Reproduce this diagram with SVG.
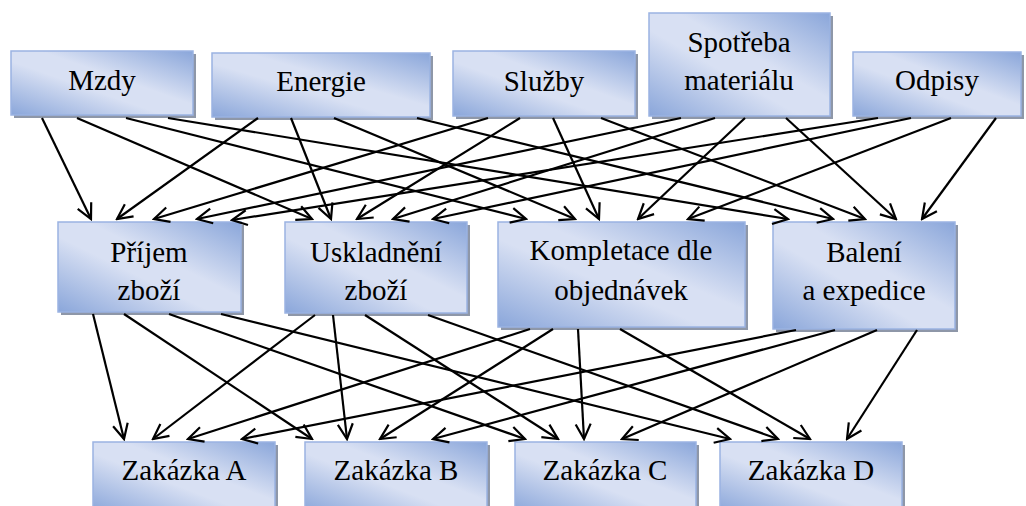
<svg xmlns="http://www.w3.org/2000/svg" width="1026" height="506" viewBox="0 0 1026 506">
<style>
.box{fill:url(#g);stroke:#9ab3e2;stroke-width:1.5}
.sh{fill:#8e97a8}
.t{font-family:"Liberation Serif","Times New Roman",serif;font-size:29px;fill:#000;text-anchor:middle}
.c line{stroke:#000;stroke-width:2.2;marker-end:url(#a)}
</style>
<defs>
<linearGradient id="g" x1="1" y1="0" x2="0" y2="1">
<stop offset="0" stop-color="#8aa6da"/>
<stop offset="0.42" stop-color="#d8e0f3"/>
<stop offset="0.58" stop-color="#d8e0f3"/>
<stop offset="1" stop-color="#8aa6da"/>
</linearGradient>
<marker id="a" viewBox="-16 -9 18 18" markerWidth="18" markerHeight="18" refX="0" refY="0" orient="auto" markerUnits="userSpaceOnUse">
<path d="M-15,-7.5 L0,0 L-15,7.5" fill="none" stroke="#000" stroke-width="2.2"/>
</marker>
</defs>
<rect width="1026" height="506" fill="#fff"/>

<g id="mzdy"><rect class="sh" x="14" y="54" width="182" height="64"/><rect class="box" x="11" y="51" width="182" height="64"/><text class="t" x="102" y="90">Mzdy</text></g>
<g id="energie"><rect class="sh" x="215" y="56" width="218" height="64"/><rect class="box" x="212" y="53" width="218" height="64"/><text class="t" x="321" y="91">Energie</text></g>
<g id="sluzby"><rect class="sh" x="456" y="54" width="182" height="65"/><rect class="box" x="453" y="51" width="182" height="65"/><text class="t" x="544" y="91">Služby</text></g>
<g id="spotreba"><rect class="sh" x="652" y="16" width="181" height="103"/><rect class="box" x="649" y="13" width="181" height="103"/><text class="t" x="739" y="52">Spotřeba</text><text class="t" x="739" y="90">materiálu</text></g>
<g id="odpisy"><rect class="sh" x="856" y="55" width="168" height="64"/><rect class="box" x="853" y="52" width="168" height="64"/><text class="t" x="937" y="90">Odpisy</text></g>

<g id="prijem"><rect class="sh" x="61" y="225" width="183" height="90"/><rect class="box" x="58" y="222" width="183" height="90"/><text class="t" x="149" y="262">Příjem</text><text class="t" x="149" y="300">zboží</text></g>
<g id="uskladneni"><rect class="sh" x="288" y="225" width="182" height="91"/><rect class="box" x="285" y="222" width="182" height="91"/><text class="t" x="376" y="262">Uskladnění</text><text class="t" x="376" y="300">zboží</text></g>
<g id="kompletace"><rect class="sh" x="501" y="225" width="247" height="105"/><rect class="box" x="498" y="222" width="247" height="105"/><text class="t" x="621" y="260">Kompletace dle</text><text class="t" x="621" y="300">objednávek</text></g>
<g id="baleni"><rect class="sh" x="776" y="225" width="182" height="107"/><rect class="box" x="773" y="222" width="182" height="107"/><text class="t" x="864" y="262">Balení</text><text class="t" x="864" y="300">a expedice</text></g>

<g id="zakA"><rect class="sh" x="96" y="445" width="182" height="70"/><rect class="box" x="93" y="442" width="182" height="70"/><text class="t" x="184" y="480">Zakázka A</text></g>
<g id="zakB"><rect class="sh" x="308" y="445" width="182" height="70"/><rect class="box" x="305" y="442" width="182" height="70"/><text class="t" x="396" y="480">Zakázka B</text></g>
<g id="zakC"><rect class="sh" x="518" y="445" width="181" height="70"/><rect class="box" x="515" y="442" width="181" height="70"/><text class="t" x="605" y="480">Zakázka C</text></g>
<g id="zakD"><rect class="sh" x="723" y="445" width="182" height="70"/><rect class="box" x="720" y="442" width="182" height="70"/><text class="t" x="811" y="480">Zakázka D</text></g>

<g id="connectors" class="c">
<line x1="42" y1="118" x2="91" y2="219"/>
<line x1="77" y1="118" x2="312" y2="219"/>
<line x1="126" y1="118" x2="526" y2="219"/>
<line x1="168" y1="118" x2="788" y2="219"/>
<line x1="258" y1="118" x2="117" y2="219"/>
<line x1="291" y1="118" x2="331" y2="219"/>
<line x1="334" y1="118" x2="575" y2="219"/>
<line x1="417" y1="118" x2="833" y2="219"/>
<line x1="488" y1="118" x2="154" y2="219"/>
<line x1="520" y1="118" x2="357" y2="219"/>
<line x1="553" y1="118" x2="599" y2="219"/>
<line x1="601" y1="118" x2="865" y2="219"/>
<line x1="681" y1="118" x2="197" y2="219"/>
<line x1="715" y1="118" x2="393" y2="219"/>
<line x1="745" y1="118" x2="638" y2="219"/>
<line x1="786" y1="118" x2="896" y2="219"/>
<line x1="878" y1="118" x2="232" y2="220"/>
<line x1="911" y1="118" x2="433" y2="219"/>
<line x1="951" y1="118" x2="688" y2="219"/>
<line x1="996" y1="118" x2="922" y2="219"/>

<line x1="93" y1="314" x2="124" y2="439"/>
<line x1="124" y1="314" x2="312" y2="439"/>
<line x1="169" y1="314" x2="525" y2="439"/>
<line x1="221" y1="314" x2="730" y2="439"/>
<line x1="315" y1="315" x2="153" y2="439"/>
<line x1="333" y1="315" x2="347" y2="439"/>
<line x1="365" y1="315" x2="558" y2="439"/>
<line x1="428" y1="315" x2="778" y2="439"/>
<line x1="530" y1="329" x2="188" y2="439"/>
<line x1="553" y1="329" x2="380" y2="439"/>
<line x1="578" y1="329" x2="584" y2="439"/>
<line x1="620" y1="329" x2="810" y2="439"/>
<line x1="796" y1="330" x2="242" y2="439"/>
<line x1="835" y1="330" x2="433" y2="439"/>
<line x1="877" y1="330" x2="622" y2="439"/>
<line x1="917" y1="330" x2="847" y2="439"/>
</g>
</svg>
